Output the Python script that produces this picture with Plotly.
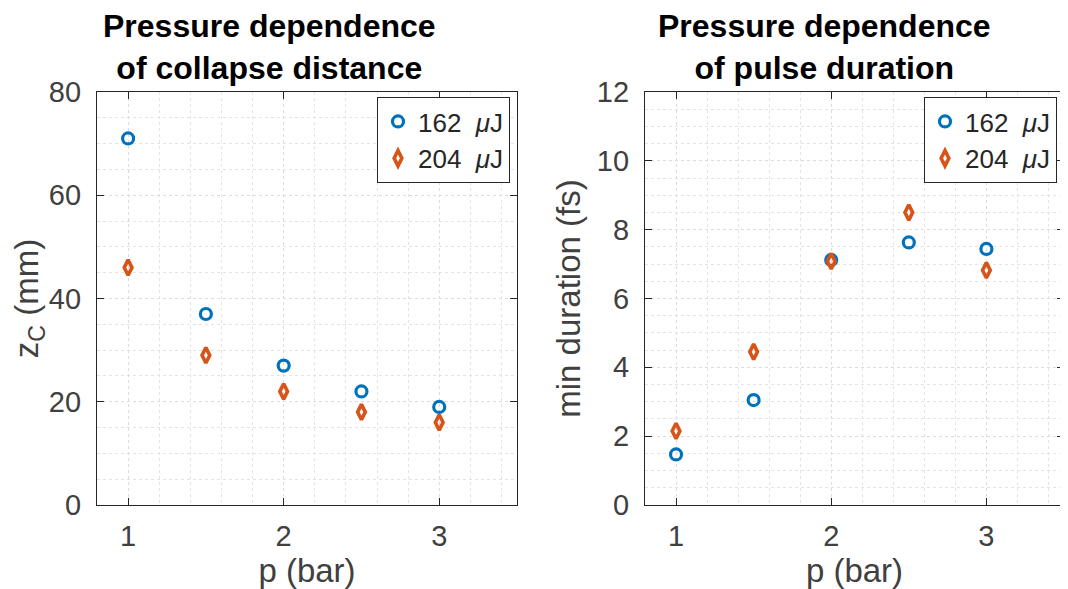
import plotly.graph_objects as go

pressure = [1, 1.5, 2, 2.5, 3]
zc_162 = [71, 37, 27, 22, 19]
zc_204 = [46, 29, 22, 18, 16]
dur_162 = [1.47, 3.05, 7.12, 7.63, 7.44]
dur_204 = [2.15, 4.45, 7.08, 8.5, 6.82]
labels = ["162  <i>μ</i>J", "204  <i>μ</i>J"]
titles = ["<b>Pressure dependence<br>of collapse distance</b>",
          "<b>Pressure dependence<br>of pulse duration</b>"]

BLUE = "#0072BD"
ORANGE = "#D95319"
FONT = "Liberation Sans, Arial, Helvetica, sans-serif"
W, H = 1068, 589
OFF = 8  # page body margin offset


def fx(px):
    return (px - OFF) / W


def fy(py):
    return (H - (py - OFF)) / H


fig = go.Figure()


def add_pair(ys1, ys2, xa, ya, legend):
    fig.add_trace(go.Scatter(x=pressure, y=ys1, mode="markers", name=labels[0],
                             xaxis=xa, yaxis=ya, legend=legend,
                             marker=dict(symbol="circle-open", size=11, color=BLUE,
                                         line=dict(width=3.2, color=BLUE))))
    fig.add_trace(go.Scatter(x=pressure, y=ys2, mode="markers", name=labels[1],
                             xaxis=xa, yaxis=ya, legend=legend,
                             marker=dict(symbol="diamond-tall-open", size=11, color=ORANGE,
                                         line=dict(width=3.6, color=ORANGE))))


add_pair(zc_162, zc_204, "x", "y", "legend")
add_pair(dur_162, dur_204, "x2", "y2", "legend2")

ydom = [fy(505), fy(92)]
TITLE_FONT = dict(family=FONT, size=33, color="#404040")
axcommon = dict(showline=True, linecolor="#262626", linewidth=1.2, mirror="allticks",
                ticks="inside", ticklen=7, tickcolor="#262626", tickwidth=1,
                showgrid=True, gridcolor="#dcdcdc", griddash="dot", gridwidth=1,
                zeroline=False, automargin=False,
                tickfont=dict(family=FONT, size=29, color="#404040"))

xminor = dict(dtick=0.2, tick0=0, showgrid=True, gridcolor="#e4e4e4", griddash="dot", ticks="")
xcommon = dict(axcommon, range=[0.8, 3.5], tickvals=[1, 2, 3], minor=xminor,
               ticklabelstandoff=5)

legend_common = dict(xanchor="right", yanchor="top",
                     bordercolor="#262626", borderwidth=1, bgcolor="white",
                     font=dict(family=FONT, size=26, color="#262626"),
                     itemwidth=30, tracegroupgap=0)

fig.update_layout(
    width=W, height=H,
    margin=dict(l=0, r=0, t=0, b=0, autoexpand=False),
    paper_bgcolor="white", plot_bgcolor="white",
    font=dict(family=FONT, color="#262626"),
    xaxis=dict(xcommon, domain=[fx(97), fx(517)], anchor="y",
               title=dict(text="p (bar)", font=TITLE_FONT, standoff=7)),
    yaxis=dict(axcommon, domain=ydom, anchor="x", range=[0, 80], dtick=20,
               minor=dict(dtick=5, showgrid=True, gridcolor="#e4e4e4", griddash="dot", ticks=""),
               ticklabelstandoff=9,
               title=dict(text="z<sub>C</sub> (mm)", font=TITLE_FONT, standoff=6)),
    xaxis2=dict(xcommon, domain=[fx(645), fx(1064)], anchor="y2",
                title=dict(text="p (bar)", font=TITLE_FONT, standoff=7)),
    yaxis2=dict(axcommon, domain=ydom, anchor="x2", range=[0, 12], dtick=2,
                minor=dict(dtick=0.5, showgrid=True, gridcolor="#e4e4e4", griddash="dot", ticks=""),
                ticklabelstandoff=9,
                title=dict(text="min duration (fs)", font=TITLE_FONT, standoff=6)),
    legend=dict(legend_common, x=fx(510), y=fy(97)),
    legend2=dict(legend_common, x=fx(1057), y=fy(97)),
    showlegend=True,
)

for cx, t in zip([269, 824], titles):
    fig.add_annotation(x=fx(cx), y=fy(6), xref="paper", yref="paper",
                       xanchor="center", yanchor="top", showarrow=False,
                       text=t, align="center",
                       font=dict(family=FONT, size=32, color="#000000"))

fig.write_html("out.html")
